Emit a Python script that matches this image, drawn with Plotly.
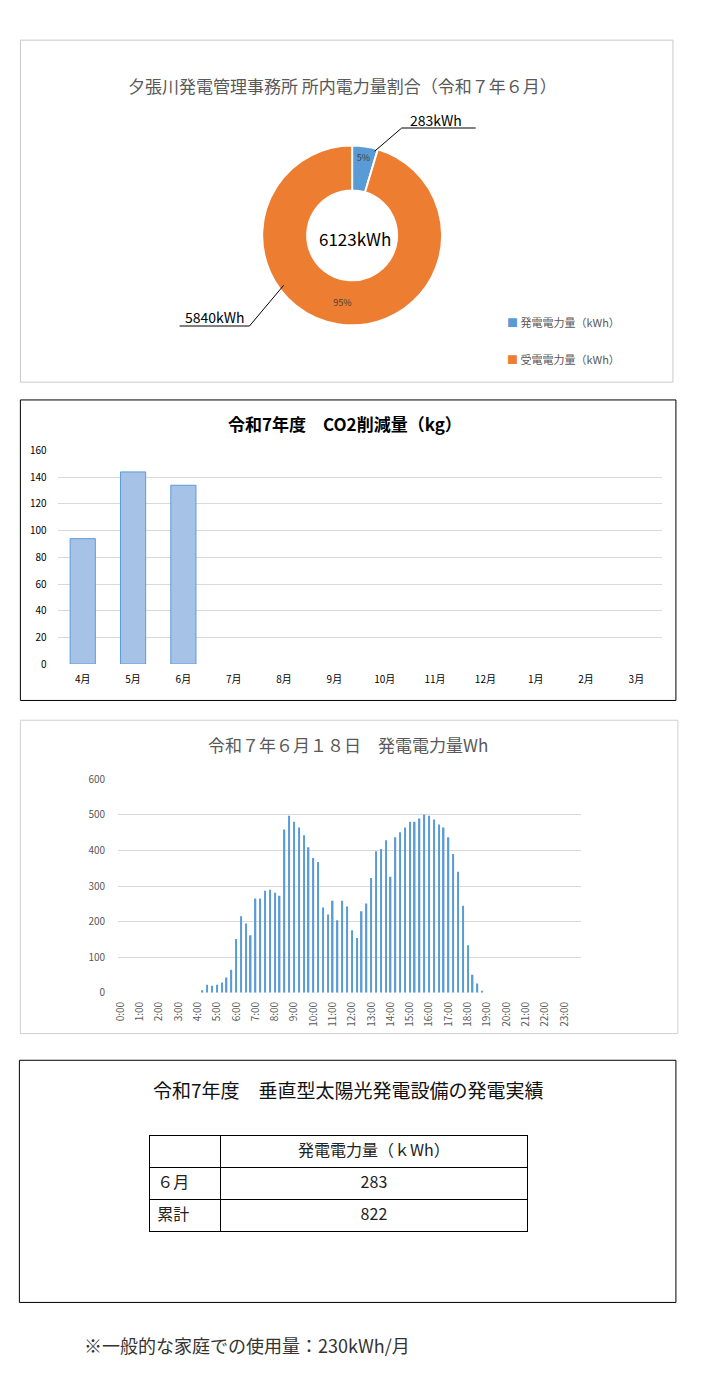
import plotly.graph_objects as go

W, H = 726, 1391

def px(x):
    return x / W

def py(y):
    return 1 - y / H

FONT = "Noto Sans CJK JP"
GRAY = "#595959"
BLUE = "#5b9bd5"
ORANGE = "#ed7d31"

# --- 所内電力量割合 ---
pie_labels = ["発電電力量（kWh）", "受電電力量（kWh）"]
pie_values = [283, 5840]
pie_total = 6123

# --- CO2削減量 ---
months = ["4月", "5月", "6月", "7月", "8月", "9月", "10月", "11月", "12月", "1月", "2月", "3月"]
co2_kg = [94, 144, 134, None, None, None, None, None, None, None, None, None]

# --- 6月18日 発電電力量 (15分毎, Wh) ---
times = [f"{h}:{m:02d}" for h in range(24) for m in (0, 15, 30, 45)]
hour_ticks = [f"{h}:00" for h in range(24)]
gen_wh = [
    0, 0, 0, 0, 0, 0, 0, 0, 0, 0, 0, 0,
    0, 0, 0, 0, 0, 7, 23, 20, 23, 29, 43, 65,
    151, 215, 195, 162, 265, 265, 287, 290, 281, 273, 459, 498,
    481, 465, 443, 409, 379, 368, 240, 220, 259, 204, 259, 243,
    176, 154, 229, 251, 323, 398, 404, 429, 326, 437, 451, 465,
    481, 481, 490, 501, 498, 487, 473, 465, 437, 390, 340, 245,
    134, 51, 26, 6, 0, 0, 0, 0, 0, 0, 0, 0,
    0, 0, 0, 0, 0, 0, 0, 0, 0, 0, 0, 0,
]

# --- 発電実績テーブル ---
table_header = ["", "発電電力量（ｋWh）"]
table_rows = ["６月", "累計"]
table_kwh = ["283", "822"]
note = "※一般的な家庭での使用量：230kWh/月"

fig = go.Figure()

fig.add_trace(go.Pie(
    labels=pie_labels, values=pie_values, hole=0.5, sort=False, direction="clockwise",
    marker=dict(colors=[BLUE, ORANGE], line=dict(color="white", width=2)),
    texttemplate="%{percent:.0%}", textposition="inside", insidetextorientation="horizontal",
    textfont=dict(family=FONT, size=9, color="#404040"),
    domain=dict(x=[px(258), px(440)], y=[py(320), py(138)]),
    hoverinfo="label+value+percent",
))

fig.add_trace(go.Bar(
    x=months, y=co2_kg, xaxis="x", yaxis="y",
    marker=dict(color="#a6c2e7", line=dict(color=BLUE, width=1)),
))

fig.add_trace(go.Bar(
    x=times, y=gen_wh, xaxis="x2", yaxis="y2",
    marker=dict(color=BLUE, line=dict(width=0)),
))

fig.add_trace(go.Table(
    domain=dict(x=[px(144.5), px(526)], y=[py(1240), py(1140)]),
    columnwidth=[72, 310],
    header=dict(values=table_header, height=32, align=["left", "center"],
                line=dict(color="black", width=1), fill=dict(color="white"),
                font=dict(family=FONT, size=16, color="#222")),
    cells=dict(values=[table_rows, table_kwh], height=32, align=["left", "center"],
               line=dict(color="black", width=1), fill=dict(color="white"),
               font=dict(family=FONT, size=16, color="#222")),
))

grid = "#d9d9d9"
fig.update_layout(
    autosize=True, margin=dict(l=0, r=0, t=0, b=0),
    paper_bgcolor="white", plot_bgcolor="white", showlegend=False,
    font=dict(family=FONT),
    bargap=0.5,
    xaxis=dict(domain=[px(52), px(661)], type="category", showgrid=False, ticks="",
               tickfont=dict(size=10, color="black"), ticklabelstandoff=8, fixedrange=True),
    yaxis=dict(domain=[py(662.7), py(446.7)], range=[0, 160], dtick=20, gridcolor=grid,
               zeroline=False, tickfont=dict(size=10, color="black"), ticklabelstandoff=10),
    xaxis2=dict(domain=[px(113), px(580)], type="category", showgrid=False, ticks="",
                tickvals=hour_ticks, ticktext=hour_ticks, tickangle=-90,
                tickfont=dict(size=10, color=GRAY), ticklabelstandoff=6, anchor="y2"),
    yaxis2=dict(domain=[py(995.3), py(779.3)], range=[0, 600], dtick=100, gridcolor=grid,
                zeroline=False, tickfont=dict(size=10, color=GRAY), ticklabelstandoff=12,
                anchor="x2"),
)
fig.update_traces(width=0.3, selector=dict(xaxis="x2"))

shapes = [
    dict(x0=14.5, y0=31.5, x1=672.5, y1=377.5, color="#c8c8c8"),
    dict(x0=14.5, y0=395.5, x1=675.5, y1=699.5, color="black"),
    dict(x0=14.5, y0=719.5, x1=677.5, y1=1036.5, color="#d0d0d0"),
    dict(x0=13.5, y0=1063.5, x1=675.5, y1=1308.5, color="black"),
]
for s in shapes:
    fig.add_shape(type="rect", xref="paper", yref="paper",
                  x0=px(s["x0"]), x1=px(s["x1"]), y0=py(s["y0"]), y1=py(s["y1"]),
                  line=dict(color=s["color"], width=1), fillcolor="rgba(0,0,0,0)")

# leader lines for donut labels
for pts in ([(371.7, 143.9), (399, 120.4), (473.6, 120.4)],
            [(280, 279.5), (245.5, 320.7), (175, 320.7)]):
    path = "M " + " L ".join(f"{px(x)},{py(y)}" for x, y in pts)
    fig.add_shape(type="path", xref="paper", yref="paper", path=path,
                  line=dict(color="black", width=1))

def text(x, y, s, size, color="black", xanchor="center", bold=False):
    if bold:
        s = f"<b>{s}</b>"
    fig.add_annotation(x=px(x), y=py(y), xref="paper", yref="paper", text=s,
                       showarrow=False, xanchor=xanchor, yanchor="middle",
                       font=dict(family=FONT, size=size, color=color))

text(339, 77, "夕張川発電管理事務所 所内電力量割合（令和７年６月）", 17, GRAY)
text(434, 112, f"{pie_values[0]}kWh", 14)
text(211, 312, f"{pie_values[1]}kWh", 14)
text(352, 232, f"{pie_total}kWh", 17)
for i, (lab, col) in enumerate(zip(pie_labels, [BLUE, ORANGE])):
    text(503, 317 + 37 * i, f"<span style='color:{col}'>■</span> {lab}", 11, GRAY, xanchor="left")

text(342, 419, "令和7年度　CO2削減量（kg）", 17, "black", bold=True)
text(345, 744, "令和７年６月１８日　発電電力量Wh", 17, GRAY)
text(345, 1093, "令和7年度　垂直型太陽光発電設備の発電実績", 19, "#111")
text(77, 1352, note, 18, "#333", xanchor="left")

fit_page = """
document.documentElement.style.margin = '0';
document.body.style.margin = '0';
document.body.style.overflow = 'hidden';
var gd = document.getElementById('{plot_id}');
gd.style.width = '100vw';
gd.style.height = '100vh';
Plotly.Plots.resize(gd);
"""
fig.write_html("out.html", default_width="100vw", default_height="100vh",
               config={"displayModeBar": False}, post_script=fit_page)
